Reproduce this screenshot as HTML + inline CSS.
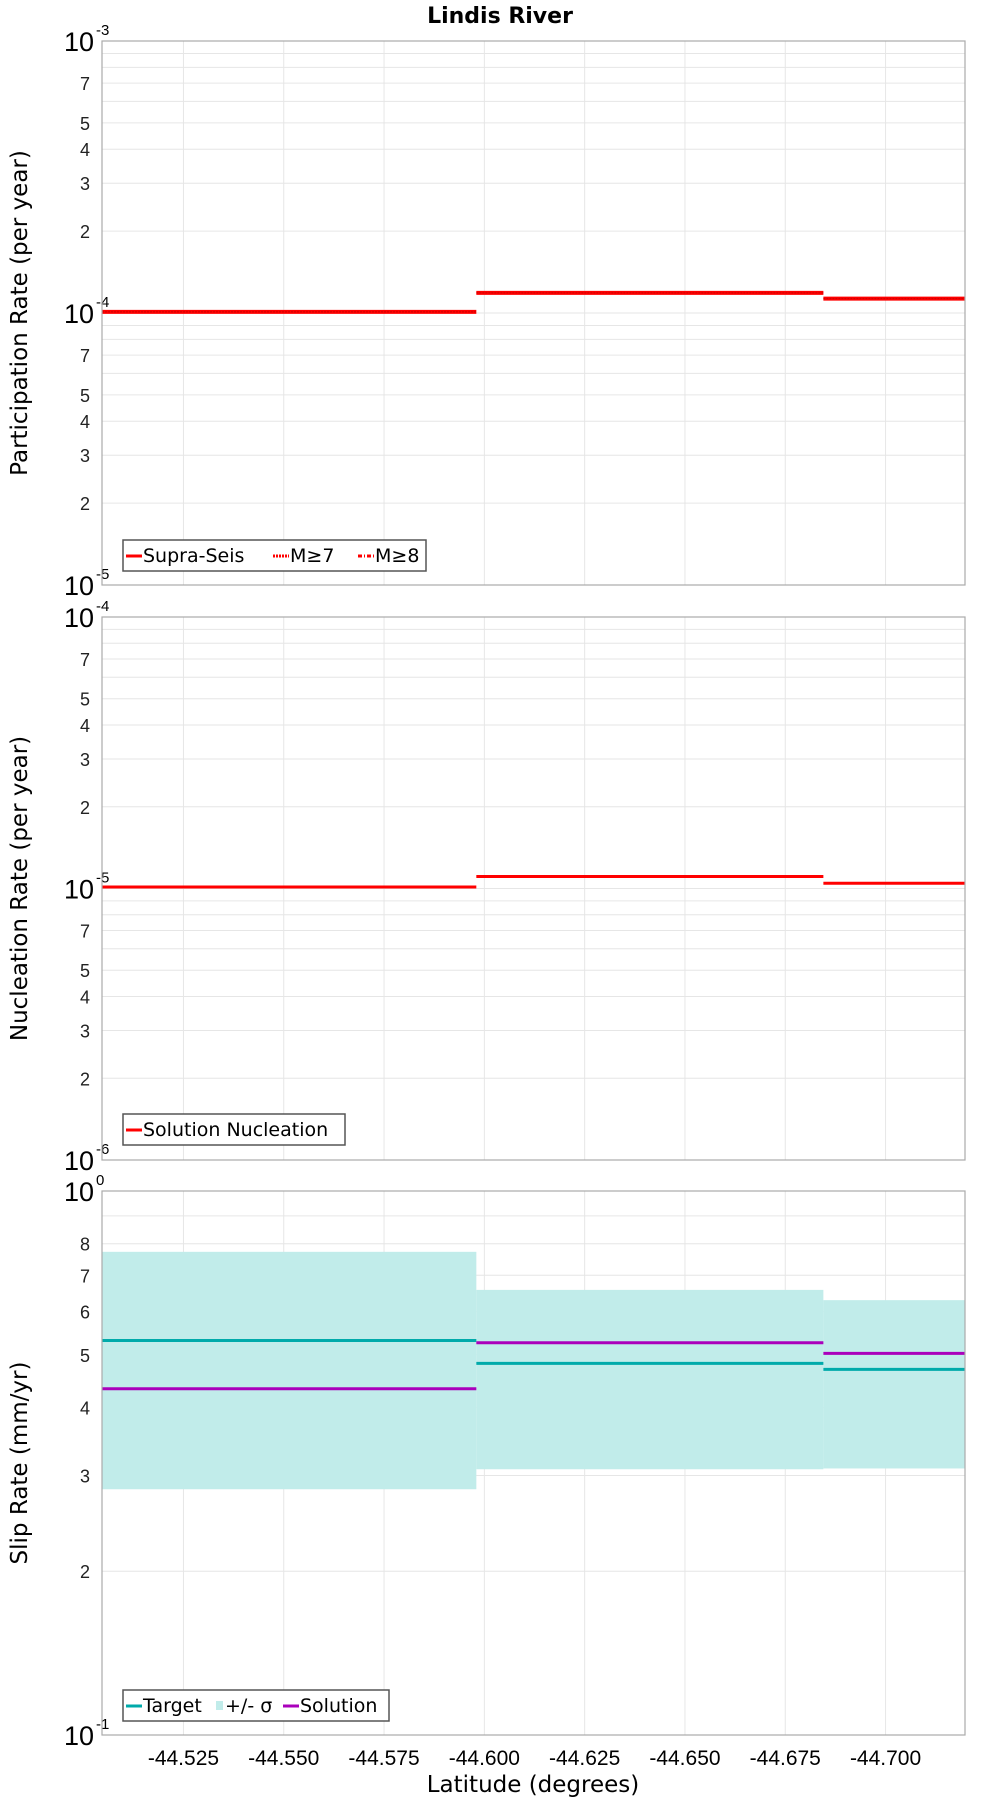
<!DOCTYPE html>
<html><head><meta charset="utf-8"><style>
body{margin:0;background:#fff;}
svg{display:block;font-family:"Liberation Sans","DejaVu Sans",sans-serif;}
.dv{font-family:"DejaVu Sans","Liberation Sans",sans-serif;}
</style></head><body>
<svg id="chart" width="1000" height="1800" viewBox="0 0 1000 1800" xmlns="http://www.w3.org/2000/svg">
<text class="dv" x="500" y="23" text-anchor="middle" font-size="22" font-weight="bold">Lindis River</text>
</svg>
<script>
const segBreaks = [-44.5047, -44.598, -44.6845, -44.7198];
const xTicks = [-44.525, -44.550, -44.575, -44.600, -44.625, -44.650, -44.675, -44.700];
const xTickLabels = ["-44.525","-44.550","-44.575","-44.600","-44.625","-44.650","-44.675","-44.700"];
const partRates = [1.01e-4, 1.186e-4, 1.13e-4];
const nuclRates = [1.013e-5, 1.107e-5, 1.045e-5];
const targetSlip = [0.531, 0.482, 0.470];
const solutionSlip = [0.433, 0.526, 0.503];
const sigmaUpper = [0.773, 0.658, 0.630];
const sigmaLower = [0.283, 0.308, 0.309];

const NS = "http://www.w3.org/2000/svg";
const svg = document.getElementById('chart');
const L = 102, R = 965;
function xS(v){ return L + (v - segBreaks[0]) / (segBreaks[3] - segBreaks[0]) * (R - L); }
function mk(tag, attrs, parent){ const e = document.createElementNS(NS, tag); for (const k in attrs) e.setAttribute(k, attrs[k]); (parent||svg).appendChild(e); return e; }

const panels = [
  {top:41, bot:585, lo:-5, hi:-3, title:"Participation Rate (per year)", name:"participation"},
  {top:617, bot:1160, lo:-6, hi:-4, title:"Nucleation Rate (per year)", name:"nucleation"},
  {top:1191, bot:1735, lo:-1, hi:0, title:"Slip Rate (mm/yr)", name:"slip"}
];
function yS(p, v){ return p.bot - (Math.log10(v) - p.lo) / (p.hi - p.lo) * (p.bot - p.top); }

panels.forEach(p => {
  const g = mk('g', {});
  
  
  for (let d = p.lo; d < p.hi; d++) {
    for (let m = 1; m <= 9; m++) {
      const v = m * Math.pow(10, d);
      const y = yS(p, v);
      const gl = mk('line', {x1:L, x2:R, y1:y, y2:y, stroke:'#e6e6e6', 'stroke-width':1}, g);
      
      
      if (m === 1) {
        const t = mk('text', {x:L-8, y:y+10, 'text-anchor':'end', 'font-size':27}, g);
        
        
        t.textContent = '10';
        const s = mk('text', {x:L-6, y:y-6, 'font-size':15}, g);
        
        
        s.textContent = String(d);
      } else if (m <= 5 || m === 7 || (p.name === 'slip' && m <= 8)) {
        const t = mk('text', {x:L-12, y:y+7, 'text-anchor':'end', 'font-size':18, fill:'#222'}, g);
        
        
        t.textContent = String(m);
      }
    }
  }
  const yt = yS(p, Math.pow(10, p.hi));
  const t = mk('text', {x:L-8, y:yt+10, 'text-anchor':'end', 'font-size':27}, g);
  
  
  t.textContent = '10';
  const s = mk('text', {x:L-6, y:yt-6, 'font-size':15}, g);
  
  
  s.textContent = String(p.hi);
  xTicks.forEach(v => {
    const x = xS(v);
    const vl = mk('line', {x1:x, x2:x, y1:p.top, y2:p.bot, stroke:'#e6e6e6', 'stroke-width':1}, g);
    
    
  });
  const yl = mk('text', {class:'dv', transform:`translate(27,${(p.top+p.bot)/2}) rotate(-90)`, 'text-anchor':'middle', 'font-size':23}, g);
  
  
  yl.textContent = p.title;
  p.g = g;
});

function steps(p, vals, color, w, name, dash) {
  vals.forEach((v, i) => {
    const y = yS(p, v);
    const ln = mk('line', {x1:xS(segBreaks[i]), x2:xS(segBreaks[i+1]), y1:y, y2:y, stroke:color, 'stroke-width':w, 'stroke-dasharray':dash||'none'}, p.g);
    
    
  });
}
const P3 = panels[2];
sigmaUpper.forEach((u, i) => {
  const y1 = yS(P3, u), y2 = yS(P3, sigmaLower[i]);
  const r = mk('rect', {x:xS(segBreaks[i]), y:y1, width:xS(segBreaks[i+1]) - xS(segBreaks[i]), height:y2-y1, fill:'#c1ecea'}, P3.g);
  
  
});
steps(panels[0], partRates, '#ff0000', 4, 'supra-seis');
steps(panels[0], partRates, '#cc0000', 1, 'm7', '2,1');
steps(panels[1], nuclRates, '#ff0000', 3, 'solution-nucleation');
steps(P3, targetSlip, '#00aaaa', 3, 'target');
steps(P3, solutionSlip, '#aa00bb', 3, 'solution');

panels.forEach(p => {
  const b = mk('rect', {x:L, y:p.top, width:R-L, height:p.bot-p.top, fill:'none', stroke:'#aaa', 'stroke-width':1.2}, p.g);
  
  
});

xTicks.forEach((v, i) => {
  const t = mk('text', {x:xS(v), y:1765, 'text-anchor':'middle', 'font-size':21});
  
  
  t.textContent = xTickLabels[i];
});
const xt = mk('text', {class:'dv', x:533, y:1792, 'text-anchor':'middle', 'font-size':23});


xt.textContent = 'Latitude (degrees)';

function legend(x, y, w, items, name) {
  const g = mk('g', {});
  
  
  mk('rect', {x:x, y:y, width:w, height:31, fill:'#fff', stroke:'#555', 'stroke-width':1.5}, g);
  let cx = x + 3;
  items.forEach(it => {
    if (it.band) mk('rect', {x:cx+2, y:y+11, width:7, height:9, fill:'#c1ecea'}, g);
    else mk('line', {x1:cx, x2:cx+16, y1:y+16, y2:y+16, stroke:it.c, 'stroke-width':3, 'stroke-dasharray':it.d||'none'}, g);
    const t = mk('text', {class:'dv', x:cx+(it.band?11:17), y:y+22, 'font-size':19}, g);
    
    
    t.textContent = it.t;
    cx += (it.band?11:17) + it.w;
  });
}
legend(123, 540, 303, [{t:'Supra-Seis', c:'#f00', w:130},{t:'M≥7', c:'#f00', d:'2,1', w:68},{t:'M≥8', c:'#f00', d:'4,2,1,2', w:45}], 'participation-legend');
legend(123, 1114, 222, [{t:'Solution Nucleation', c:'#f00', w:200}], 'nucleation-legend');
legend(123, 1690, 266, [{t:'Target', c:'#00aaaa', w:71},{t:'+/- σ', band:true, w:58},{t:'Solution', c:'#aa00bb', w:80}], 'slip-legend');
</script>
</body></html>
